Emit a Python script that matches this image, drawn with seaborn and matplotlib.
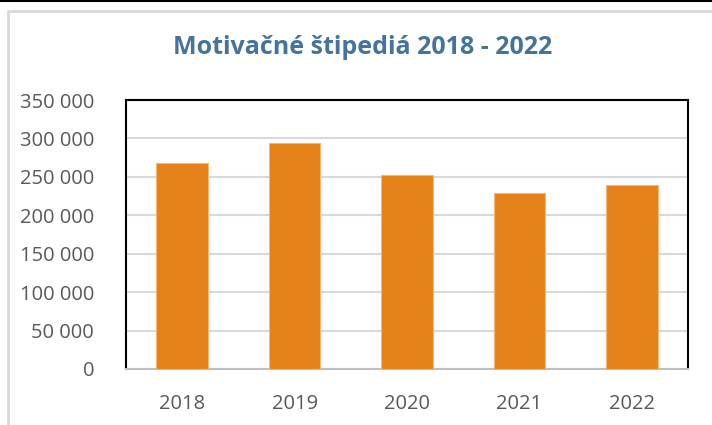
import matplotlib
matplotlib.use('Agg')
import matplotlib.pyplot as plt
import seaborn as sns
import pandas as pd
from matplotlib.ticker import FuncFormatter
from matplotlib.lines import Line2D

# chart data
years = ['2018', '2019', '2020', '2021', '2022']
amounts = [268000, 294000, 253000, 229000, 239000]
y_ticks = [0, 50000, 100000, 150000, 200000, 250000, 300000, 350000]

df = pd.DataFrame({'Rok': years, 'Suma': amounts})

sns.set_style('white')
plt.rcParams['font.family'] = ['Open Sans', 'DejaVu Sans']

fig = plt.figure(figsize=(7.12, 4.25), dpi=100)
ax = fig.add_axes([126 / 712, 1 - 369 / 425, (688 - 126) / 712, (369 - 100) / 425])

sns.barplot(data=df, x='Rok', y='Suma', color='#E6821A', saturation=1,
            width=0.46, edgecolor='#F5B77A', linewidth=0.8, ax=ax, zorder=3)

ax.set_ylim(0, 350000)
ax.set_yticks(y_ticks)
ax.yaxis.set_major_formatter(FuncFormatter(lambda v, p: f'{int(v):,}'.replace(',', ' ')))
ax.grid(axis='y', color='#D9D9D9', linewidth=1.5, zorder=0)
ax.set_axisbelow(True)
ax.set_xlabel('')
ax.set_ylabel('')
ax.tick_params(axis='both', length=0, labelsize=14.5, labelcolor='#595959')
ax.tick_params(axis='y', pad=23)
ax.tick_params(axis='x', pad=18)

for side in ['left', 'top', 'right']:
    ax.spines[side].set_color('black')
    ax.spines[side].set_linewidth(1.5)
ax.spines['bottom'].set_color('#BFBFBF')
ax.spines['bottom'].set_linewidth(1.5)

fig.suptitle('Motivačné štipediá 2018 - 2022', x=363 / 712, y=1 - 48 / 425,
             va='center', fontsize=18, fontweight='bold', color='#44749D')

# outer chart frame lines
fig.add_artist(Line2D([0, 1], [1 - 0.5 / 425, 1 - 0.5 / 425], color='black', linewidth=1.5,
                      transform=fig.transFigure))
fig.add_artist(Line2D([8 / 712, 8 / 712, 1], [0, 1 - 11 / 425, 1 - 11 / 425], color='#D9D9D9',
                      linewidth=2, transform=fig.transFigure))

fig.savefig('out.png', dpi=100)
